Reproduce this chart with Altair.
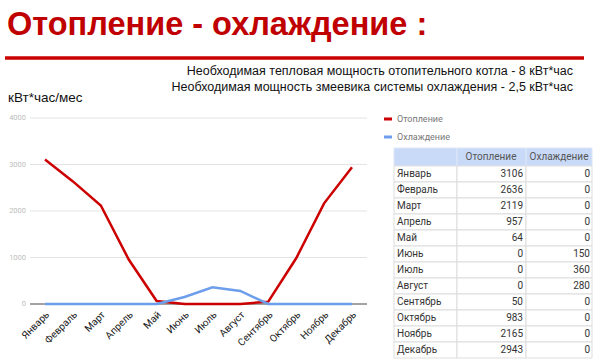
import altair as alt
import pandas as pd

months = ["Январь", "Февраль", "Март", "Апрель", "Май", "Июнь", "Июль",
          "Август", "Сентябрь", "Октябрь", "Ноябрь", "Декабрь"]
heating = [3106, 2636, 2119, 957, 64, 0, 0, 0, 50, 983, 2165, 2943]
cooling = [0, 0, 0, 0, 0, 150, 360, 280, 0, 0, 0, 0]
series = ["Отопление", "Охлаждение"]
series_colors = ["#cc0000", "#6d9eeb"]
y_ticks = [0, 1000, 2000, 3000, 4000]

title_text = "Отопление - охлаждение :"
sub1 = "Необходимая тепловая мощность отопительного котла - 8 кВт*час"
sub2 = "Необходимая мощность змеевика системы охлаждения - 2,5 кВт*час"
unit_text = "кВт*час/мес"

long_df = pd.DataFrame(
    [{"month": m, "series": series[0], "value": h} for m, h in zip(months, heating)]
    + [{"month": m, "series": series[1], "value": c} for m, c in zip(months, cooling)]
)
table_df = pd.DataFrame({"month": months, "heat": heating, "cool": cooling})
ticks_df = pd.DataFrame({"v": y_ticks})
legend_df = pd.DataFrame({"series": series})
one = pd.DataFrame({"a": [0]})

XS = alt.Scale(type="point", domain=months, range=[45, 352], padding=0)
YS = alt.Scale(domain=[0, 4000], range=[304, 118])
ROW = alt.Scale(type="band", domain=months, range=[166, 358], paddingInner=0, paddingOuter=0)
COL = alt.Scale(domain=series, range=series_colors)
LEG = alt.Scale(type="point", domain=series, range=[119, 137], padding=0)


def label(text, x, y, size, color="#000", weight="normal", align="left",
          font="Liberation Sans", baseline="alphabetic"):
    return alt.Chart(pd.DataFrame({"t": [text]})).mark_text(
        align=align, baseline=baseline, fontSize=size, fontWeight=weight,
        font=font, color=color
    ).encode(x=alt.value(x), y=alt.value(y), text="t:N")


title = label(title_text, 7, 35, 32.5, "#c00000", "bold")
rule = alt.Chart(one).mark_rule(color="#cc0000", strokeWidth=3.5).encode(
    x=alt.value(5), x2=alt.value(584), y=alt.value(58))
s1 = label(sub1, 573, 75, 12.5, "#111", align="right")
s2 = label(sub2, 573, 91, 12.5, "#111", align="right")
unit = label(unit_text, 8, 102, 13.5, "#111")

grid = alt.Chart(ticks_df).mark_rule(color="#e3e3e3", strokeWidth=1).encode(
    y=alt.Y("v:Q", scale=YS, axis=None), x=alt.value(30), x2=alt.value(367))
ytext = alt.Chart(ticks_df).mark_text(
    align="right", baseline="middle", fontSize=7.5, color="#bdbdbd", font="Roboto"
).encode(y=alt.Y("v:Q", scale=YS, axis=None), x=alt.value(26), text="v:Q")
zero = alt.Chart(one).mark_rule(color="#555", strokeWidth=1).encode(
    y=alt.value(304), x=alt.value(30), x2=alt.value(367))

lines = alt.Chart(long_df).mark_line(strokeWidth=2.5).encode(
    x=alt.X("month:N", scale=XS, axis=None, sort=months),
    y=alt.Y("value:Q", scale=YS, axis=None),
    color=alt.Color("series:N", scale=COL, legend=None),
    order=alt.Order("series:N"),
)

xlabels = alt.Chart(pd.DataFrame({"month": months})).mark_text(
    align="right", baseline="middle", angle=315, fontSize=10, color="#222",
    font="Roboto", dx=4
).encode(x=alt.X("month:N", scale=XS, axis=None), y=alt.value(316), text="month:N")

leg_marks = alt.Chart(legend_df).mark_rule(strokeWidth=3).encode(
    y=alt.Y("series:N", scale=LEG, axis=None),
    x=alt.value(384), x2=alt.value(392),
    color=alt.Color("series:N", scale=COL, legend=None))
leg_text = alt.Chart(legend_df).mark_text(
    align="left", baseline="middle", fontSize=9, color="#777", font="Roboto"
).encode(y=alt.Y("series:N", scale=LEG, axis=None), x=alt.value(397), text="series:N")

cols = [(394, 457), (457, 526), (526, 592)]
header_cells = [
    alt.Chart(one).mark_rect(fill="#c9daf8", stroke="#dde6f7", strokeWidth=1).encode(
        x=alt.value(a), x2=alt.value(b), y=alt.value(148), y2=alt.value(166))
    for a, b in cols
]
body_cells = [
    alt.Chart(table_df).mark_rect(fill="white", stroke="#dddddd", strokeWidth=1).encode(
        x=alt.value(a), x2=alt.value(b), y=alt.Y("month:N", scale=ROW, axis=None))
    for a, b in cols
]
h1 = label(series[0], 491, 157, 10, "#555", align="center", font="Roboto", baseline="middle")
h2 = label(series[1], 559, 157, 10, "#555", align="center", font="Roboto", baseline="middle")


def col_text(field, x, align):
    return alt.Chart(table_df).mark_text(
        align=align, baseline="middle", fontSize=10, color="#333", font="Roboto"
    ).encode(y=alt.Y("month:N", scale=ROW, axis=None), x=alt.value(x), text=f"{field}:N")


t_names = col_text("month", 397, "left")
t_heat = col_text("heat", 523, "right")
t_cool = col_text("cool", 590, "right")

chart = alt.layer(
    title, rule, s1, s2, unit, grid, ytext, zero, lines, xlabels,
    leg_marks, leg_text, *header_cells, *body_cells, h1, h2, t_names, t_heat, t_cool
).resolve_scale(x="independent", y="independent", color="independent").properties(
    width=600, height=359, autosize=alt.AutoSizeParams(type="none"), padding=0,
    background="white"
).configure_view(stroke=None)

chart.save("out.html", embed_options={"renderer": "svg", "actions": False})
